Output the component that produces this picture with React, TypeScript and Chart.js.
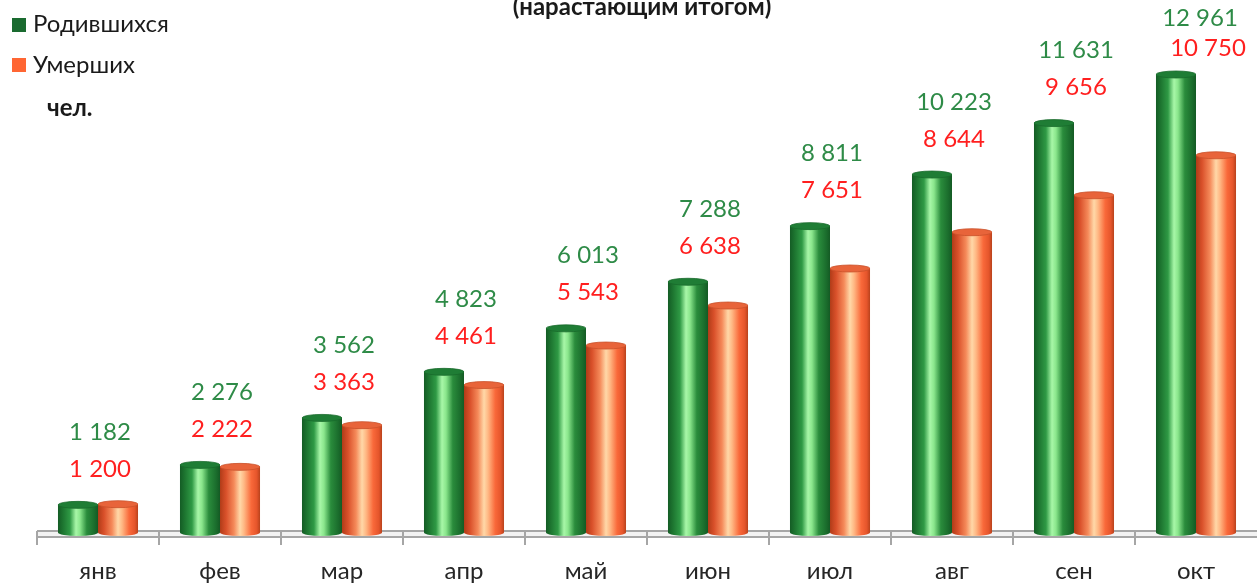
import React, { useEffect, useRef } from "react";
import { Chart, registerables } from "chart.js";

Chart.register(...registerables);

const months = ["янв", "фев", "мар", "апр", "май", "июн", "июл", "авг", "сен", "окт"];
const born = [1182, 2276, 3562, 4823, 6013, 7288, 8811, 10223, 11631, 12961];
const died = [1200, 2222, 3363, 4461, 5543, 6638, 7651, 8644, 9656, 10750];
const seriesNames = ["Родившихся", "Умерших"];
const titleText = "(нарастающим итогом)";
const unitText = "чел.";

const FONT = "Lato, 'Noto Sans', sans-serif";

const fmt = (v: number) => String(v).replace(/\B(?=(\d{3})+(?!\d))/g, " ");

const cylinderPlugin = {
  id: "cylinders",
  beforeDatasetsDraw(chart: any) {
    const ctx = chart.ctx;
    const xs = chart.scales.x;
    const ca = chart.chartArea;
    const floorTop = ca.bottom - 5;
    const floorBot = ca.bottom + 1;
    ctx.save();
    ctx.fillStyle = "#f2f2f2";
    ctx.fillRect(ca.left, floorTop, ca.right - ca.left, floorBot - floorTop);
    ctx.strokeStyle = "#a6a6a6";
    ctx.lineWidth = 2;
    ctx.beginPath();
    ctx.moveTo(ca.left, floorTop);
    ctx.lineTo(ca.right, floorTop);
    ctx.moveTo(ca.left, floorBot);
    ctx.lineTo(ca.right, floorBot);
    const n = months.length;
    const step = (ca.right - ca.left) / n;
    for (let i = 0; i < n; i++) {
      const bx = xs.getPixelForValue(i) - step / 2;
      ctx.moveTo(bx, floorTop);
      ctx.lineTo(bx, ca.bottom + 9);
    }
    ctx.stroke();
    ctx.restore();
  },
  afterDatasetsDraw(chart: any) {
    const ctx = chart.ctx;
    const ca = chart.chartArea;
    const palettes = [
      {
        stops: [
          [0, "#145c25"],
          [0.12, "#1d7530"],
          [0.3, "#2f9a45"],
          [0.45, "#a8f7a8"],
          [0.55, "#8ae68c"],
          [0.72, "#2a8c3c"],
          [0.9, "#1b6e2d"],
          [1, "#145a24"],
        ],
        top: "#1f7d35",
        topEdge: "#186a2b",
      },
      {
        stops: [
          [0, "#b03c18"],
          [0.15, "#d9502a"],
          [0.35, "#f58a5a"],
          [0.5, "#ffd8a8"],
          [0.6, "#ffb884"],
          [0.78, "#f9693a"],
          [0.92, "#e5552b"],
          [1, "#b8421c"],
        ],
        top: "#e8643a",
        topEdge: "#c9502a",
      },
    ];
    chart.data.datasets.forEach((ds: any, di: number) => {
      const meta = chart.getDatasetMeta(di);
      const pal = palettes[di];
      meta.data.forEach((el: any) => {
        const w = el.width;
        const x0 = el.x - w / 2;
        const x1 = el.x + w / 2;
        const top = el.y;
        const base = Math.min(el.base, ca.bottom);
        const ry = 3.5;
        ctx.save();
        const g = ctx.createLinearGradient(x0, 0, x1, 0);
        pal.stops.forEach((s: any) => g.addColorStop(s[0], s[1]));
        ctx.fillStyle = g;
        ctx.beginPath();
        ctx.moveTo(x0, top);
        ctx.lineTo(x0, base - ry);
        ctx.ellipse(el.x, base - ry, w / 2, ry, 0, Math.PI, 0, true);
        ctx.lineTo(x1, top);
        ctx.closePath();
        ctx.fill();
        ctx.beginPath();
        ctx.ellipse(el.x, top, w / 2, ry, 0, 0, Math.PI * 2);
        ctx.fillStyle = pal.top;
        ctx.fill();
        ctx.strokeStyle = pal.topEdge;
        ctx.lineWidth = 0.8;
        ctx.stroke();
        ctx.restore();
      });
    });
  },
  afterDraw(chart: any) {
    const ctx = chart.ctx;
    const xs = chart.scales.x;
    const ca = chart.chartArea;
    const m0 = chart.getDatasetMeta(0);
    const m1 = chart.getDatasetMeta(1);
    ctx.save();
    ctx.textAlign = "center";
    ctx.textBaseline = "alphabetic";
    // category labels
    ctx.font = `24px ${FONT}`;
    ctx.fillStyle = "#262626";
    for (let i = 0; i < months.length; i++) {
      ctx.fillText(months[i], xs.getPixelForValue(i), ca.bottom + 43);
    }
    // data labels
    ctx.font = `24px ${FONT}`;
    for (let i = 0; i < months.length; i++) {
      const a = m0.data[i];
      const b = m1.data[i];
      const cx = (a.x + b.x) / 2;
      const gy = Math.max(18, a.y - 73);
      const clamp = gy <= 18;
      const ry = gy + (clamp ? 30 : 37);
      ctx.fillStyle = "#2e8b47";
      ctx.fillText(fmt(born[i]), cx + (clamp ? 4 : 2), gy + 8);
      ctx.fillStyle = "#ff1f1f";
      ctx.fillText(fmt(died[i]), cx + (clamp ? 12 : 2), ry + 8);
    }
    // title
    ctx.fillStyle = "#1a1a1a";
    ctx.font = `bold 24px ${FONT}`;
    ctx.fillText(titleText, 642, 15);
    // legend
    ctx.textAlign = "left";
    ctx.font = `24px ${FONT}`;
    ctx.fillStyle = "#1a6b30";
    ctx.fillRect(12, 18, 14, 14);
    ctx.fillStyle = "#ff6633";
    ctx.fillRect(12, 58, 14, 14);
    ctx.fillStyle = "#1a1a1a";
    ctx.fillText(seriesNames[0], 33, 32);
    ctx.fillText(seriesNames[1], 33, 73);
    ctx.font = `bold 24px ${FONT}`;
    ctx.fillText(unitText, 47, 116);
    ctx.restore();
  },
};

export default function App() {
  const ref = useRef<HTMLCanvasElement | null>(null);
  useEffect(() => {
    document.body.style.margin = "0";
    const chart = new Chart(ref.current as HTMLCanvasElement, {
      type: "bar",
      data: {
        labels: months,
        datasets: [
          { label: seriesNames[0], data: born, backgroundColor: "rgba(0,0,0,0)" },
          { label: seriesNames[1], data: died, backgroundColor: "rgba(0,0,0,0)" },
        ],
      },
      options: {
        animation: false,
        responsive: false,
        maintainAspectRatio: false,
        layout: { padding: { left: 37, right: 0, top: 0, bottom: 47 } },
        datasets: { bar: { categoryPercentage: 0.656, barPercentage: 1 } },
        plugins: { legend: { display: false }, tooltip: { enabled: false }, title: { display: false } },
        scales: {
          x: {
            display: false,
          },
          y: { display: false, min: 330, max: 15000 },
        },
      },
      plugins: [cylinderPlugin],
    });
    return () => chart.destroy();
  }, []);
  return (
    <div style={{ position: "absolute", left: 0, top: 0, width: 1257, height: 583 }}>
      <canvas ref={ref} width={1257} height={583} style={{ width: 1257, height: 583 }} />
    </div>
  );
}
